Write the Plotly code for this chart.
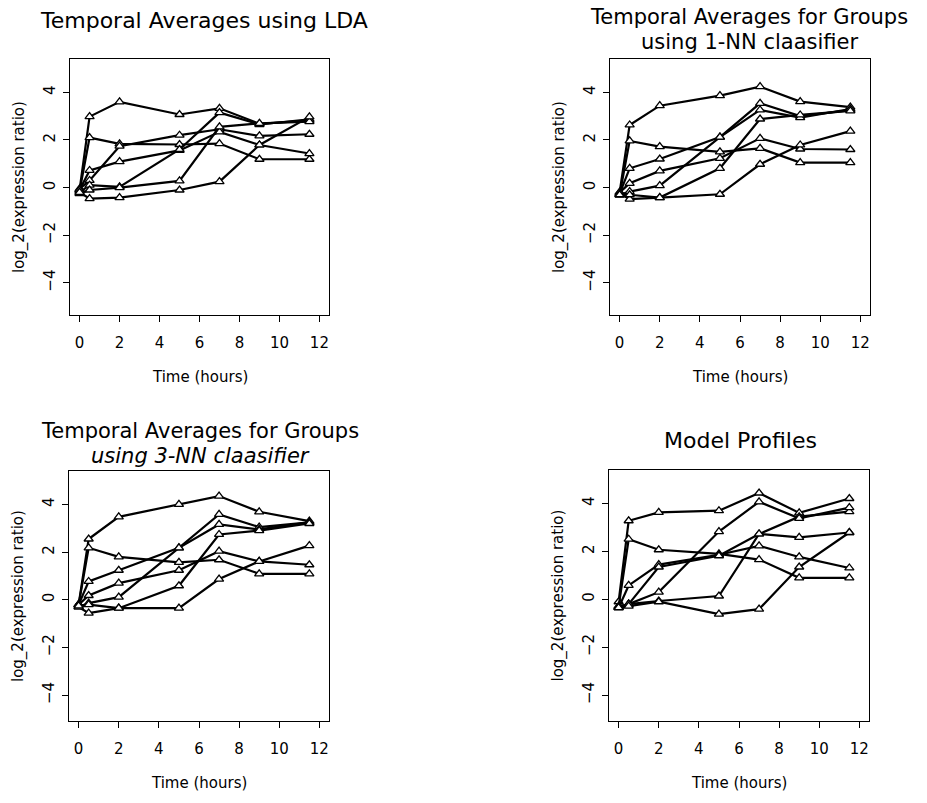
import plotly.graph_objects as go

# ---------------- data ----------------
time_hours = [0, 0.5, 2, 5, 7, 9, 11.5]

lda_profiles = [
    [-0.10, 2.98, 3.60, 3.07, 3.33, 2.68, 2.82],
    [-0.15, 2.10, 1.84, 1.81, 1.85, 1.19, 1.19],
    [-0.05, 0.30, 1.74, 2.20, 2.45, 2.17, 2.24],
    [-0.10, 0.72, 1.09, 1.56, 2.34, 1.79, 1.43],
    [-0.20, 0.10, 0.03, 1.60, 3.15, 2.65, 2.87],
    [-0.25, -0.10, 0.00, 0.28, 2.55, 2.70, 2.77],
    [-0.20, -0.46, -0.42, -0.10, 0.25, 1.79, 2.97],
]

nn1_profiles = [
    [-0.20, 2.63, 3.44, 3.86, 4.24, 3.61, 3.38],
    [-0.30, 1.96, 1.72, 1.50, 1.65, 1.05, 1.05],
    [-0.25, 0.81, 1.20, 2.12, 3.54, 3.00, 3.25],
    [-0.20, 0.18, 0.70, 1.23, 2.07, 1.62, 1.60],
    [-0.30, -0.17, 0.08, 2.12, 3.26, 2.94, 3.30],
    [-0.25, -0.48, -0.42, 0.81, 2.88, 3.05, 3.22],
    [-0.30, -0.30, -0.42, -0.28, 0.98, 1.79, 2.37],
]

nn3_profiles = [
    [-0.20, 2.55, 3.48, 4.00, 4.35, 3.69, 3.30],
    [-0.20, 2.18, 1.80, 1.57, 1.68, 1.09, 1.09],
    [-0.20, 0.77, 1.24, 2.18, 3.58, 3.05, 3.25],
    [-0.20, 0.18, 0.70, 1.24, 2.04, 1.61, 1.47],
    [-0.30, -0.14, 0.11, 2.18, 3.16, 2.95, 3.25],
    [-0.30, -0.56, -0.35, 0.59, 2.74, 2.90, 3.20],
    [-0.25, -0.20, -0.35, -0.35, 0.87, 1.61, 2.27],
]

model_profiles = [
    [-0.10, 3.28, 3.63, 3.70, 4.44, 3.61, 4.21],
    [-0.30, 2.51, 2.07, 1.90, 1.66, 0.90, 0.90],
    [-0.35, 0.58, 1.45, 1.86, 2.23, 1.77, 1.31],
    [-0.30, -0.20, 1.35, 1.82, 2.73, 3.45, 3.66],
    [-0.30, -0.20, 0.30, 2.83, 4.07, 3.38, 3.83],
    [-0.35, -0.20, -0.07, 0.14, 2.73, 2.59, 2.79],
    [-0.35, -0.28, -0.10, -0.62, -0.41, 1.35, 2.79],
]

panel_titles = [
    "Temporal Averages using LDA",
    "Temporal Averages for Groups<br>using 1-NN claasifier",
    "Temporal Averages for Groups<br><i>using 3-NN claasifier</i>",
    "Model Profiles",
]
x_label = "Time (hours)"
y_label = "log_2(expression ratio)"
x_ticks = [0, 2, 4, 6, 8, 10, 12]
y_ticks = [-4, -2, 0, 2, 4]

# ---------------- layout ----------------
W, H = 927, 803
FONT = "DejaVu Sans"

# plot boxes in pixels: (left, right, top, bottom) and y-range
boxes = [
    (70, 329, 59, 315),
    (610, 870, 59, 315),
    (69, 329, 471, 721),
    (609, 869, 470, 721),
]
y_ranges = [
    [-5.35, 5.4],
    [-5.35, 5.4],
    [-5.08, 5.4],
    [-5.08, 5.4],
]
# title centres (x, y) in px
title_pos = [
    [(204, 21)],
    [(749, 17), (749, 42)],
    [(200, 431), (200, 456)],
    [(740, 440)],
]

def px_x(p):
    return p / W

def px_y(p):
    return 1 - p / H

fig = go.Figure()
all_profiles = [lda_profiles, nn1_profiles, nn3_profiles, model_profiles]

for i, profiles in enumerate(all_profiles):
    suffix = "" if i == 0 else str(i + 1)
    for prof in profiles:
        fig.add_trace(go.Scatter(
            x=time_hours, y=prof, mode="lines+markers",
            xaxis="x" + suffix, yaxis="y" + suffix,
            line=dict(color="black", width=2.2),
            marker=dict(symbol="triangle-up", size=8, color="white",
                        line=dict(color="black", width=1.3)),
            showlegend=False, hoverinfo="skip",
        ))

layout = dict(
    width=W, height=H, autosize=False,
    margin=dict(l=0, r=0, t=0, b=0),
    paper_bgcolor="white", plot_bgcolor="white",
    font=dict(family=FONT, color="black", size=15),
    annotations=[],
)

for i, (l, r, t, b) in enumerate(boxes):
    suffix = "" if i == 0 else str(i + 1)
    xa = dict(
        domain=[px_x(l), px_x(r)], range=[-0.48, 12.48],
        anchor="y" + suffix, tickmode="array", tickvals=x_ticks,
        ticks="outside", ticklen=6, tickwidth=1, tickcolor="black",
        showline=True, linecolor="black", linewidth=1.3, mirror=True,
        showgrid=False, zeroline=False,
        tickfont=dict(family=FONT, size=15, color="black"),
        ticklabelstandoff=8,
    )
    ya = dict(
        domain=[px_y(b), px_y(t)], range=y_ranges[i],
        anchor="x" + suffix, tickmode="array", tickvals=y_ticks,
        ticks="outside", ticklen=6, tickwidth=1, tickcolor="black",
        showline=True, linecolor="black", linewidth=1.3, mirror=True,
        showgrid=False, zeroline=False, tickangle=-90,
        tickfont=dict(family=FONT, size=15, color="black"),
        ticklabelstandoff=2,
    )
    layout["xaxis" + suffix] = xa
    layout["yaxis" + suffix] = ya

    # titles
    lines = panel_titles[i].split("<br>")
    tsize = 22 if len(lines) == 1 else 21
    for (tx, ty), txt in zip(title_pos[i], lines):
        layout["annotations"].append(dict(
            text=txt, x=px_x(tx), y=px_y(ty), xref="paper", yref="paper",
            xanchor="center", yanchor="middle", showarrow=False,
            font=dict(family=FONT, size=tsize, color="black"),
        ))
    # x label
    layout["annotations"].append(dict(
        text=x_label, x=px_x((l + r) / 2), y=px_y(b + 62), xref="paper", yref="paper",
        xanchor="center", yanchor="middle", showarrow=False,
        font=dict(family=FONT, size=15, color="black"),
    ))
    # y label
    layout["annotations"].append(dict(
        text=y_label, x=px_x(l - 51), y=px_y((t + b) / 2), xref="paper", yref="paper",
        xanchor="center", yanchor="middle", showarrow=False, textangle=-90,
        font=dict(family=FONT, size=15, color="black"),
    ))

fig.update_layout(**layout)
fig.write_html("out.html")
